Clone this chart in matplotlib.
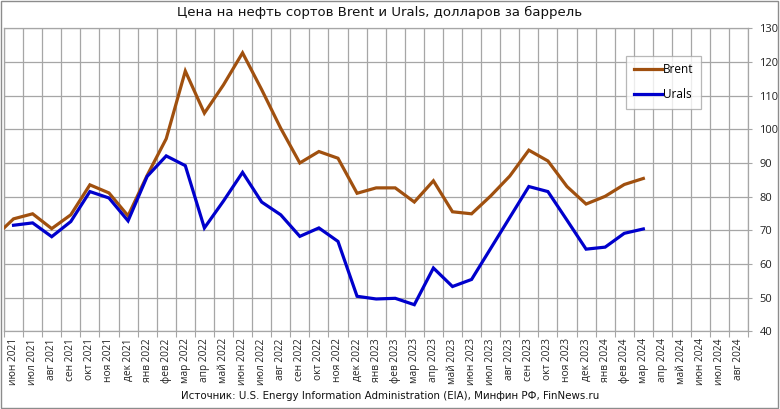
import matplotlib
matplotlib.use("Agg")
import matplotlib.pyplot as plt
from matplotlib.patches import Rectangle

months = ['июн 2021', 'июл 2021', 'авг 2021', 'сен 2021', 'окт 2021', 'ноя 2021', 'дек 2021',
          'янв 2022', 'фев 2022', 'мар 2022', 'апр 2022', 'май 2022', 'июн 2022', 'июл 2022',
          'авг 2022', 'сен 2022', 'окт 2022', 'ноя 2022', 'дек 2022', 'янв 2023', 'фев 2023',
          'мар 2023', 'апр 2023', 'май 2023', 'июн 2023', 'июл 2023', 'авг 2023', 'сен 2023',
          'окт 2023', 'ноя 2023', 'дек 2023', 'янв 2024', 'фев 2024', 'мар 2024', 'апр 2024',
          'май 2024', 'июн 2024', 'июл 2024', 'авг 2024']

# Brent starts one month earlier (май 2021), clipped at the left edge of the plot
brent = [68.0, 73.4, 74.9, 70.5, 74.6, 83.5, 81.1, 74.3, 86.3, 97.2, 117.3, 104.8, 113.2, 122.7,
         111.8, 100.3, 90.0, 93.4, 91.4, 81.0, 82.6, 82.6, 78.4, 84.7, 75.5, 74.9, 80.2, 86.1,
         93.8, 90.6, 83.0, 77.8, 80.1, 83.6, 85.4]
urals = [71.5, 72.2, 68.1, 72.6, 81.5, 79.6, 72.8, 86.0, 92.1, 89.2, 70.7, 78.7, 87.2, 78.4,
         74.6, 68.2, 70.7, 66.7, 50.4, 49.6, 49.8, 47.9, 58.8, 53.3, 55.4, 64.6, 73.8, 83.0,
         81.5, 73.0, 64.4, 65.0, 69.1, 70.4]

brent_x = list(range(-1, len(brent) - 1))
urals_x = list(range(len(urals)))

plt.rcParams['font.family'] = ['Open Sans', 'DejaVu Sans']

fig = plt.figure(figsize=(7.8, 4.09), dpi=100)
ax = fig.add_axes([4 / 780, 1 - 331.3 / 409, 744.3 / 780, 303 / 409])

grid_color = '#A6A6A6'
ax.plot(brent_x, brent, color='#A0500F', lw=2.3, label='Brent', solid_joinstyle='miter', zorder=3)
ax.plot(urals_x, urals, color='#0000CC', lw=2.3, label='Urals', solid_joinstyle='miter', zorder=3)

n = len(months)
ax.set_xlim(-0.5, n - 0.5)
ax.set_ylim(40, 130)

ax.set_xticks(range(n))
ax.set_xticklabels(months, rotation=90, fontsize=7.3)
ax.set_xticks([i - 0.5 for i in range(n + 1)], minor=True)
ax.tick_params(axis='x', which='major', length=0, pad=5, colors='#222222')
ax.tick_params(axis='x', which='minor', length=4, color=grid_color, width=0.8)

ax.yaxis.tick_right()
ax.set_yticks(range(40, 131, 10))
ax.tick_params(axis='y', length=3, width=0.8, labelsize=8, pad=5, colors='#222222')
ax.tick_params(axis='y', color=grid_color)

ax.grid(True, axis='y', which='major', color=grid_color, lw=0.9)
ax.grid(True, axis='x', which='minor', color=grid_color, lw=0.9)
ax.set_axisbelow(True)
for s in ax.spines.values():
    s.set_color(grid_color)
    s.set_linewidth(0.9)

leg = ax.legend(loc='upper left', bbox_to_anchor=(622 / 744.3, (331.3 - 55.7) / 303),
                fontsize=8.5, frameon=True, fancybox=False, edgecolor='#A6A6A6',
                handlelength=2.4, handletextpad=0.1, labelspacing=1.0, borderpad=0.65,
                borderaxespad=0)
leg.get_frame().set_linewidth(0.9)

fig.text(0.486, 0.969, 'Цена на нефть сортов Brent и Urals, долларов за баррель',
         ha='center', va='center', fontsize=9.5, family=['DejaVu Sans'], color='#111111')
fig.text(0.5, 0.031, 'Источник: U.S. Energy Information Administration (EIA), Минфин РФ, FinNews.ru',
         ha='center', va='center', fontsize=7.4, family=['DejaVu Sans'], color='#111111')

fig.patches.append(Rectangle((0.001, 0.002), 0.997, 0.996, transform=fig.transFigure,
                             fill=False, edgecolor='#8C8C8C', lw=1))

plt.savefig('out.png', dpi=100)
